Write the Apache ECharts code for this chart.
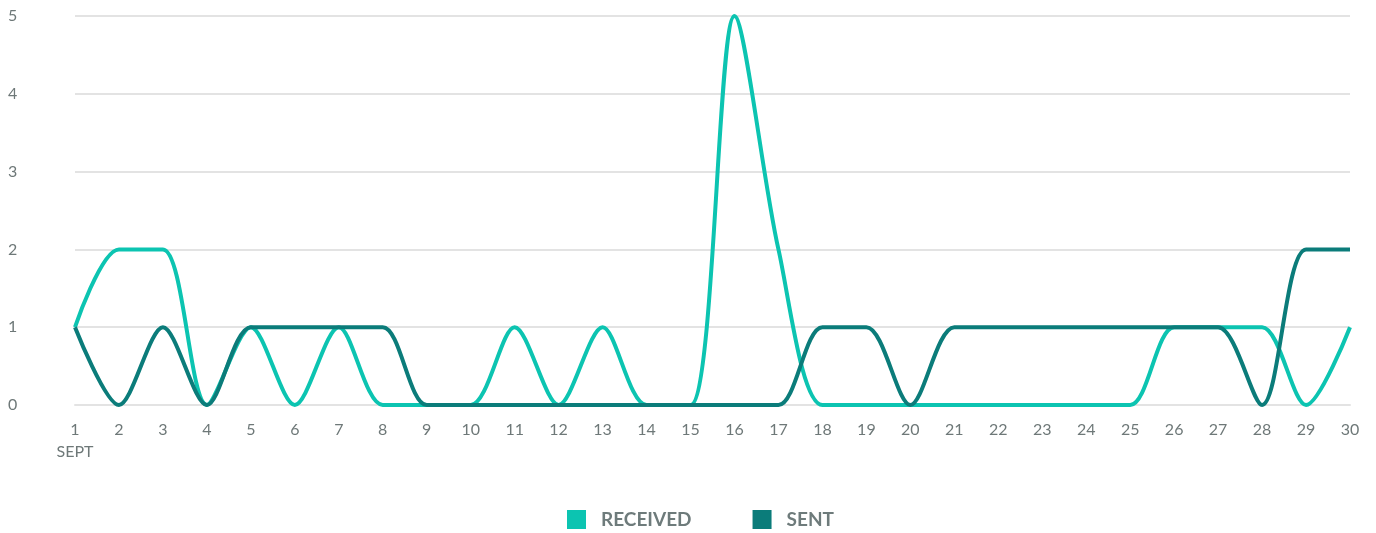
<!DOCTYPE html>
<html>
<head>
<meta charset="utf-8">
<script src="https://cdn.jsdelivr.net/npm/echarts@6/dist/echarts.min.js"></script>
<style>
html,body{margin:0;padding:0;background:#fff;}
#chart{width:1376px;height:533px;}
</style>
</head>
<body>
<div id="chart"></div>
<script>
const days = ['1','2','3','4','5','6','7','8','9','10','11','12','13','14','15','16','17','18','19','20','21','22','23','24','25','26','27','28','29','30'];
const received = [1,2,2,0,1,0,1,0,0,0,1,0,1,0,0,5,2,0,0,0,0,0,0,0,0,1,1,1,0,1];
const sent = [1,0,1,0,1,1,1,1,0,0,0,0,0,0,0,0,0,1,1,0,1,1,1,1,1,1,1,0,2,2];
const monthLabel = 'SEPT';
const seriesNames = ['RECEIVED','SENT'];

const chart = echarts.init(document.getElementById('chart'));
const fontFamily = 'Lato, "Open Sans", sans-serif';
chart.setOption({
  animation: false,
  color: ['#0cc4b1', '#0b7c7a'],
  grid: {left: 75, right: 26, top: 16, bottom: 128},
  legend: {
    bottom: 4,
    left: 567,
    padding: 0,
    itemWidth: 19,
    itemHeight: 19,
    itemGap: 61,
    icon: 'rect',
    textStyle: {color: '#6e7b7b', fontSize: 19, fontWeight: 'bold', fontFamily: fontFamily, padding: [0,0,0,10]},
    data: seriesNames
  },
  xAxis: {
    type: 'category',
    data: days,
    boundaryGap: false,
    axisLine: {show: true, lineStyle: {color: '#e3e3e3', width: 2}},
    axisTick: {show: false},
    axisLabel: {
      color: '#6e7878', fontSize: 16, fontFamily: fontFamily, margin: 14, lineHeight: 22,
      interval: 0,
      formatter: (v, i) => i === 0 ? v + '\n' + monthLabel : v
    }
  },
  yAxis: {
    type: 'value',
    min: 0, max: 5, interval: 1,
    axisLine: {show: false},
    axisTick: {show: false},
    splitLine: {lineStyle: {color: '#e3e3e3', width: 2}},
    axisLabel: {color: '#6e7878', fontSize: 16, fontFamily: fontFamily, align: 'left', margin: 67}
  },
  series: [
    {name: seriesNames[0], type: 'line', data: received, smooth: 0.3, showSymbol: false, symbol: 'none', lineStyle: {width: 4}},
    {name: seriesNames[1], type: 'line', data: sent, smooth: 0.3, showSymbol: false, symbol: 'none', lineStyle: {width: 4}}
  ]
});
</script>
</body>
</html>
